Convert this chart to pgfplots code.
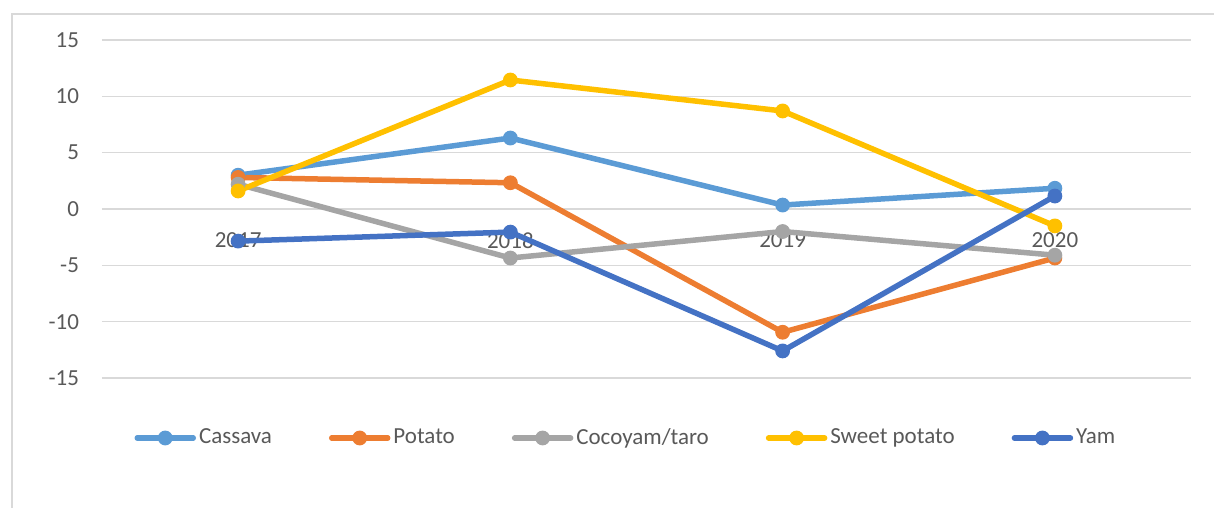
\documentclass[border=0pt]{standalone}
\usepackage{fontspec}
\setmainfont{Carlito}
\usepackage{pgfplots}
\pgfplotsset{compat=1.18}
\definecolor{cassava}{HTML}{5B9BD5}
\definecolor{potato}{HTML}{ED7D31}
\definecolor{cocoyam}{HTML}{A5A5A5}
\definecolor{sweetpotato}{HTML}{FFC000}
\definecolor{yam}{HTML}{4472C4}
\definecolor{gridgray}{HTML}{D9D9D9}
\definecolor{labelgray}{HTML}{595959}
\begin{document}
\fontsize{11.5pt}{13pt}\selectfont
\begin{tikzpicture}
\path[use as bounding box] (-51pt,-65pt) rectangle (556pt,189pt);
\draw[color=gridgray, line width=0.75pt] (-45pt,-66pt) -- (-45pt,182pt) -- (557pt,182pt);
\begin{axis}[
  at={(0pt,0pt)}, anchor=south west,
  scale only axis, width=544.5pt, height=169pt,
  xmin=-0.5, xmax=3.5, ymin=-15, ymax=15,
  xtick={0,1,2,3}, xticklabels={2017,2018,2019,2020},
  ytick={-15,-10,-5,0,5,10,15}, yticklabels={-15,-10,-5,0,5,10,15},
  axis x line=middle, axis y line=left,
  x axis line style={-, draw=gridgray, line width=0.75pt},
  y axis line style={draw=none},
  ymajorgrids, major grid style={gridgray, line width=0.75pt},
  tick style={draw=none}, major tick length=0pt,
  ticklabel style={font=\fontsize{11.5pt}{13pt}\selectfont, text=labelgray},
  yticklabel style={xshift=-7.5pt},
  xticklabel style={yshift=-8pt},
  every axis plot/.append style={line width=2.75pt, line join=round, line cap=round, mark=*, mark size=3.4pt, mark options={solid, line width=0.6pt}},
  legend image code/.code={\draw[mark repeat=2, mark phase=2, #1] plot coordinates {(0pt,0pt) (14pt,0pt) (28pt,0pt)};},
  legend columns=5,
  legend style={at={(axis description cs:0.02984,-0.1775)}, anchor=west, draw=none, fill=none, inner sep=0pt, outer sep=0pt,
    font=\fontsize{11.5pt}{13pt}\selectfont, text=labelgray,
    nodes={inner sep=1.5pt},
    /tikz/every even column/.append style={column sep=27pt}},
]
\addplot[color=cassava] coordinates {(0,3.0) (1,6.3) (2,0.35) (3,1.84)};
\addlegendentry{Cassava}
\addplot[color=potato] coordinates {(0,2.8) (1,2.33) (2,-10.94) (3,-4.35)};
\addlegendentry{Potato}
\addplot[color=cocoyam] coordinates {(0,2.2) (1,-4.35) (2,-2.0) (3,-4.1)};
\addlegendentry{Cocoyam/taro}
\addplot[color=sweetpotato] coordinates {(0,1.6) (1,11.45) (2,8.7) (3,-1.5)};
\addlegendentry{Sweet potato}
\addplot[color=yam] coordinates {(0,-2.85) (1,-2.05) (2,-12.6) (3,1.15)};
\addlegendentry{Yam}
\end{axis}
\end{tikzpicture}
\end{document}
